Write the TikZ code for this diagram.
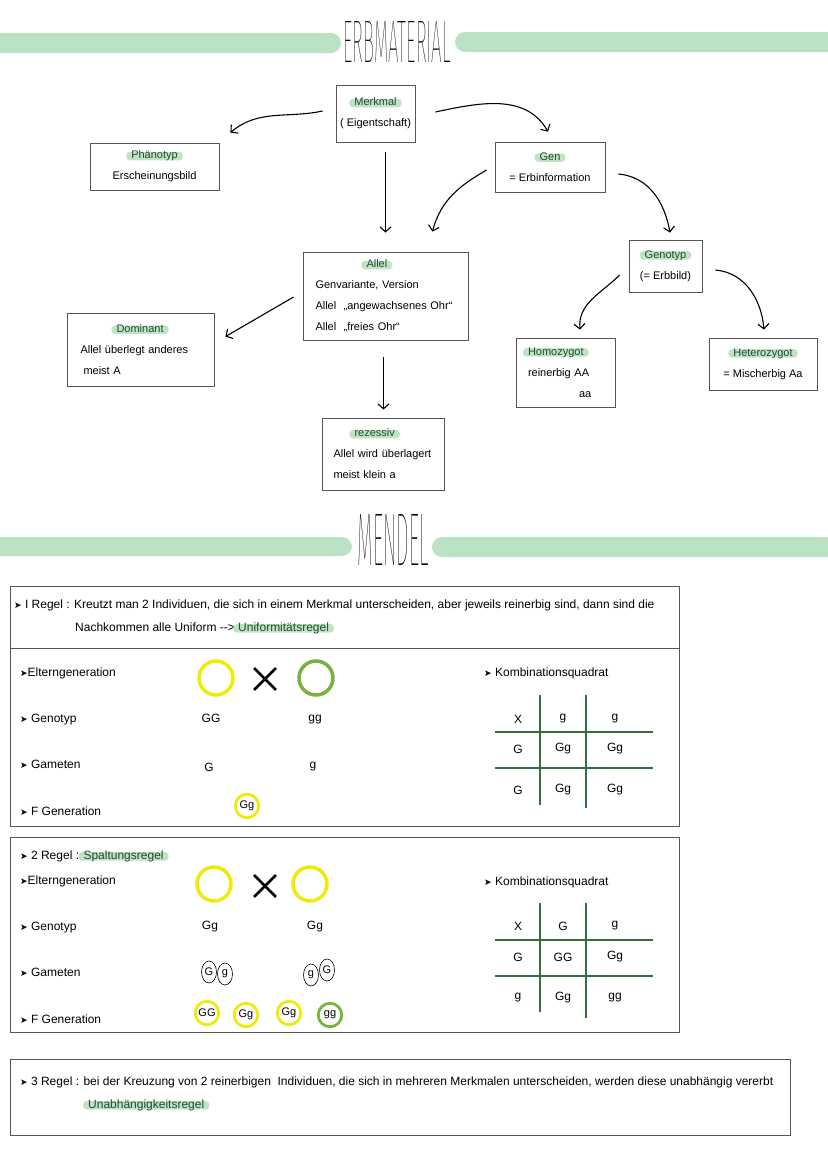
\documentclass[tikz,border=0pt]{standalone}
\usepackage{fontspec}
\setmainfont{Liberation Sans}
\newfontfamily\symfont{DejaVu Sans}
\IfFontExistsTF{Fira Sans Thin}{\newfontfamily\titlefont{Fira Sans Thin}}{%
 \IfFontExistsTF{Fira Sans ExtraLight}{\newfontfamily\titlefont{Fira Sans ExtraLight}}{%
  \IfFontExistsTF{Fira Sans Light}{\newfontfamily\titlefont{Fira Sans Light}}{%
   \IfFontExistsTF{Lato Hairline}{\newfontfamily\titlefont{Lato Hairline}}{%
    \IfFontExistsTF{Lato Light}{\newfontfamily\titlefont{Lato Light}}{%
     \IfFontExistsTF{Open Sans Light}{\newfontfamily\titlefont{Open Sans Light}}{%
      \newfontfamily\titlefont{Liberation Sans}}}}}}}
\usetikzlibrary{arrows.meta,shapes.geometric,shapes.misc,positioning}

\definecolor{balken}{RGB}{188,226,198}
\definecolor{hlgruen}{RGB}{190,228,198}
\definecolor{hltext}{RGB}{40,72,48}
\definecolor{rahmen}{RGB}{85,85,85}
\definecolor{gelb}{RGB}{238,234,10}
\definecolor{gruen}{RGB}{118,180,62}
\definecolor{gittergruen}{RGB}{50,110,62}

\newlength\hlwd
\newcommand\hl[1]{\settowidth{\hlwd}{#1}\makebox[0pt][l]{\tikz[overlay,baseline=0pt]\fill[hlgruen,rounded corners=3.5pt] (-5pt,-1.5pt) rectangle (\hlwd+5pt,7pt);}\textcolor{hltext}{#1}}
\newcommand\spitze{{\symfont\fontsize{9}{9}\selectfont ➤}}

\tikzset{
  kasten/.style={draw=rahmen, line width=0.8pt, inner sep=0pt, font=\fontsize{11}{21}\selectfont},
  pfeil/.style={-{Straight Barb[length=5pt,width=11pt]}, line width=1.1pt},
  ring/.style={circle, line width=3.5pt, minimum size=34pt, inner sep=0pt},
  kleinring/.style={circle, line width=2.8pt, minimum size=23.5pt, inner sep=0pt, font=\fontsize{11}{11}\selectfont},
  gamet/.style={ellipse, draw, line width=0.6pt, minimum width=15pt, minimum height=22pt, inner sep=0pt, font=\fontsize{11}{11}\selectfont},
  kreuz/.style={cross out, draw, line width=2.8pt, minimum size=19pt, inner sep=0pt},
  txt/.style={anchor=base west, inner sep=0pt, font=\fontsize{12}{14}\selectfont},
  zelle/.style={inner sep=0pt, font=\fontsize{12}{14}\selectfont},
  gitter/.style={draw=gittergruen, line width=1.4pt},
}

\begin{document}
\begin{tikzpicture}[x=1pt,y=1pt]
	\useasboundingbox (0,0) rectangle (828,-1171);

	% Erbmaterial
	\fill[balken,rounded corners=10pt] (-20,-33) rectangle (341,-53);
	\fill[balken,rounded corners=10pt] (455,-32) rectangle (850,-52);
	\node[inner sep=0pt] (titel1) at (397,-42) {\resizebox{107pt}{41pt}{\titlefont ERBMATERIAL}};

	\node[kasten, minimum width=79pt, minimum height=57pt, align=center] (merkmal) at (375.5,-113.5) {\hl{Merkmal}\\( Eigentschaft)};
	\node[kasten, minimum width=129pt, minimum height=47pt, align=center] (phaeno) at (154.5,-166.5) {\hl{Phänotyp}\\Erscheinungsbild};
	\node[kasten, minimum width=110pt, minimum height=50pt, align=center] (gen) at (550,-167) {\hl{Gen}\\= Erbinformation};
	\node[kasten, minimum width=165pt, minimum height=88pt, text width=140pt, align=left] (allel) at (385.5,-296) {\hspace*{51pt}\hl{Allel}\\Genvariante, Version\\Allel\ \ „angewachsenes Ohr“\\Allel\ \ „freies Ohr“};
	\node[kasten, minimum width=73pt, minimum height=52pt, align=center] (genotyp) at (665.5,-266) {\hl{Genotyp}\\(= Erbbild)};
	\node[kasten, minimum width=147pt, minimum height=73pt, text width=120pt, align=left] (dominant) at (140.5,-349.5) {\hspace*{36pt}\hl{Dominant}\\Allel überlegt anderes\\\hspace*{3pt}meist A};
	\node[kasten, minimum width=99pt, minimum height=69pt, text width=75pt, align=left] (homo) at (565.5,-372.5) {\hl{Homozygot}\\reinerbig AA\\\hspace*{51pt}aa};
	\node[kasten, minimum width=108pt, minimum height=52pt, align=center] (hetero) at (763,-364) {\hl{Heterozygot}\\= Mischerbig Aa};
	\node[kasten, minimum width=122pt, minimum height=72pt, text width=100pt, align=left] (rezessiv) at (383.5,-454) {\hspace*{21pt}\hl{rezessiv}\\Allel wird überlagert\\meist klein a};

	\draw[pfeil] ([xshift=-13pt,yshift=2.5pt]merkmal.west) to[out=192,in=40] ([xshift=11pt,yshift=10pt]phaeno.north east);
	\draw[pfeil] ([xshift=20pt,yshift=1.5pt]merkmal.east) to[out=12,in=120] ([xshift=-2pt,yshift=10pt]gen.north);
	\draw[pfeil, shorten <=10pt, shorten >=19pt] (merkmal.south -| allel.north) -- (allel.north);
	\draw[pfeil] ([xshift=-8pt,yshift=-3pt]gen.west) to[out=210,in=75] ([xshift=-36pt,yshift=20pt]allel.north east);
	\draw[pfeil] ([xshift=13pt,yshift=-7pt]gen.east) to[out=-5,in=100] ([xshift=4.5pt,yshift=7pt]genotyp.north);
	\draw[pfeil] ([xshift=-9pt,yshift=-1pt]allel.west) -- ([xshift=11pt,yshift=-24pt]dominant.north east);
	\draw[pfeil, shorten <=17pt, shorten >=8pt] (allel.south -| rezessiv.north) -- (rezessiv.north);
	\draw[pfeil] ([xshift=-9pt,yshift=-9pt]genotyp.west) to[out=225,in=95] ([xshift=14.5pt,yshift=8pt]homo.north);
	\draw[pfeil] ([xshift=13pt,yshift=-4pt]genotyp.east) to[out=-5,in=95] ([xshift=1pt,yshift=8pt]hetero.north);

	% Mendel
	\fill[balken,rounded corners=10pt] (-20,-537) rectangle (352,-556);
	\fill[balken,rounded corners=10pt] (432,-537) rectangle (850,-557);
	\node[inner sep=0pt] (titel2) at (393,-539.5) {\resizebox{71pt}{51pt}{\titlefont MENDEL}};

	% 1. Regel
	\node[draw=rahmen, line width=0.8pt, minimum width=669pt, minimum height=240pt] (regel1) at (344.5,-706) {};
	\draw[draw=rahmen, line width=0.8pt] (regel1.west |- 0,-648) -- (regel1.east |- 0,-648);
	\node[txt] (r1a) at (14,-608) {\spitze\ I Regel : Kreutzt man 2 Individuen, die sich in einem Merkmal unterscheiden, aber jeweils reinerbig sind, dann sind die};
	\node[txt] (r1b) at (75,-631) {Nachkommen alle Uniform -{}-{}> \hl{Uniformitätsregel}};
	\node[txt] (r1c) at (20,-676) {\spitze Elterngeneration};
	\node[txt] (r1d) at (20,-722) {\spitze\ Genotyp};
	\node[txt] (r1e) at (20,-768) {\spitze\ Gameten};
	\node[txt] (r1f) at (20,-815) {\spitze\ F Generation};
	\node[txt] (r1g) at (484,-676) {\spitze\ Kombinationsquadrat};

	\node[ring, draw=gelb] (e1a) at (216,-678) {};
	\node[kreuz] (x1) at (265,-679) {};
	\node[ring, draw=gruen] (e1b) at (316,-678) {};
	\node[zelle] (g1a) at (211,-718) {GG};
	\node[zelle] (g1b) at (315,-720) {gg};
	\node[zelle] (m1a) at (209,-767) {G};
	\node[zelle] (m1b) at (313,-767) {g};
	\node[kleinring, draw=gelb] (f1) at (247,-806) {Gg};

	\draw[gitter] (540,-695) -- (540,-805);
	\draw[gitter] (586,-695) -- (586,-808);
	\draw[gitter] (495,-732) -- (653,-732);
	\draw[gitter] (495,-768) -- (653,-768);
	\foreach \zy/\a/\b/\c [count=\r] in {719/X/g/g, 749/G/Gg/Gg, 790/G/Gg/Gg} {
		\node[zelle] (qa\r a) at (518,-\zy) {\a};
		\node[zelle] (qa\r b) at (563,-\zy) {\b};
		\node[zelle] (qa\r c) at (615,-\zy) {\c};
	}

	% 2. Regel
	\node[draw=rahmen, line width=0.8pt, minimum width=669pt, minimum height=195pt] (regel2) at (344.5,-934.5) {};
	\node[txt] (r2a) at (20,-859) {\spitze\ 2 Regel : \hl{Spaltungsregel}};
	\node[txt] (r2c) at (20,-884) {\spitze Elterngeneration};
	\node[txt] (r2d) at (20,-930) {\spitze\ Genotyp};
	\node[txt] (r2e) at (20,-976) {\spitze\ Gameten};
	\node[txt] (r2f) at (20,-1023) {\spitze\ F Generation};
	\node[txt] (r2g) at (484,-885) {\spitze\ Kombinationsquadrat};

	\node[ring, draw=gelb] (e2a) at (214,-884) {};
	\node[kreuz] (x2) at (265,-886) {};
	\node[ring, draw=gelb] (e2b) at (310,-884) {};
	\node[zelle] (g2a) at (210,-927) {Gg};
	\node[zelle] (g2b) at (315,-927) {Gg};
	\node[gamet] (m2a) at (209,-972) {G};
	\node[gamet] (m2b) at (225,-974) {g};
	\node[gamet] (m2c) at (311,-975) {g};
	\node[gamet] (m2d) at (327,-970) {G};
	\node[kleinring, draw=gelb] (f2a) at (207,-1013) {GG};
	\node[kleinring, draw=gelb] (f2b) at (246,-1015) {Gg};
	\node[kleinring, draw=gelb] (f2c) at (289,-1013) {Gg};
	\node[kleinring, draw=gruen] (f2d) at (330,-1015) {gg};

	\draw[gitter] (540,-903) -- (540,-1012);
	\draw[gitter] (586,-903) -- (586,-1018);
	\draw[gitter] (495,-940) -- (653,-940);
	\draw[gitter] (495,-976) -- (653,-976);
	\foreach \zy/\a/\b/\c [count=\r] in {926/X/G/g, 957/G/GG/Gg, 998/g/Gg/gg} {
		\node[zelle] (qb\r a) at (518,-\zy) {\a};
		\node[zelle] (qb\r b) at (563,-\zy) {\b};
		\node[zelle] (qb\r c) at (615,-\zy) {\c};
	}

	% 3. Regel
	\node[draw=rahmen, line width=0.8pt, minimum width=780pt, minimum height=76pt] (regel3) at (400,-1097) {};
	\node[txt] (r3a) at (20,-1085) {\spitze\ 3 Regel : bei der Kreuzung von 2 reinerbigen\ \ Individuen, die sich in mehreren Merkmalen unterscheiden, werden diese unabhängig vererbt};
	\node[txt] (r3b) at (88,-1108) {\hl{Unabhängigkeitsregel}};
\end{tikzpicture}
\end{document}
